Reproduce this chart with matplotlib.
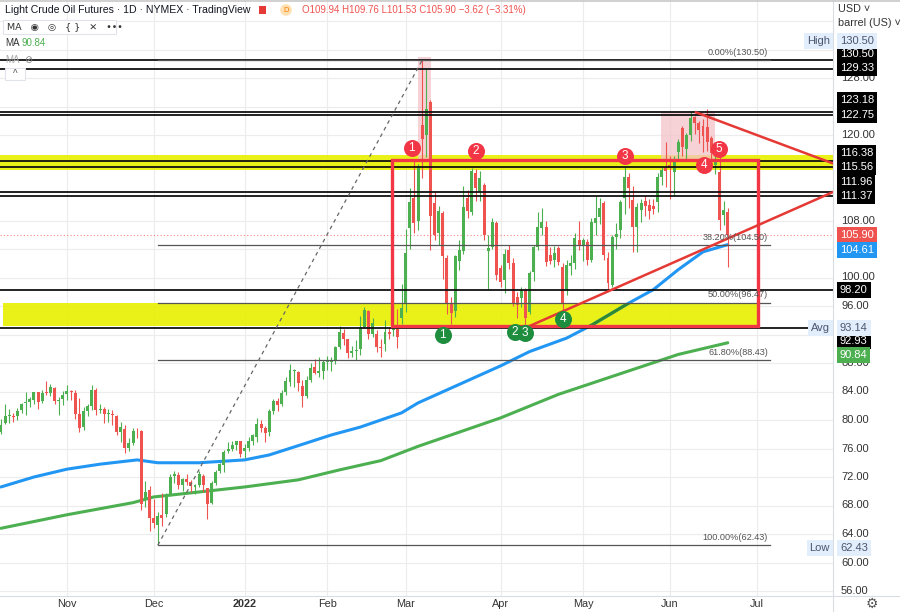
import numpy as np
import pandas as pd
import matplotlib
matplotlib.use("Agg")
import matplotlib.pyplot as plt
from matplotlib.patches import Rectangle
from matplotlib.transforms import blended_transform_factory

# ---------------- data ----------------
holidays = ["2021-11-25", "2021-12-24", "2022-01-17", "2022-02-21",
            "2022-04-15", "2022-05-30", "2022-06-20"]
dates = pd.bdate_range("2021-10-08", "2022-06-22", freq="C", holidays=holidays)

opens = [
    # Oct
    78.30, 79.60, 80.55, 80.60, 80.50, 81.40, 82.40, 82.50, 82.80, 83.90, 82.60, 83.90, 83.80, 84.50, 82.70, 82.90,
    # Nov
    83.60, 84.10, 83.80, 80.90, 79.00, 81.30, 81.90, 84.20, 81.40, 81.50, 80.80, 80.90, 80.50, 78.30, 78.80, 76.10,
    76.80, 78.40, 78.40, 69.00, 70.20,
    # Dec
    66.30, 65.30, 66.60, 66.80, 69.60, 72.20, 72.30, 70.90, 71.70, 71.30, 70.60, 70.90, 72.20, 70.40, 68.40, 71.10,
    72.80, 73.70, 75.60, 76.00, 76.50, 77.00,
    # Jan
    75.60, 76.10, 77.00, 77.60, 79.50, 78.90, 78.30, 81.30, 82.70, 82.20, 83.90, 85.40, 86.90, 86.70, 84.80, 83.40,
    85.60, 87.40, 86.60, 86.90,
    # Feb
    88.10, 88.20, 88.30, 90.20, 92.20, 91.30, 89.40, 89.70, 89.90, 93.10, 95.30, 92.10, 92.10, 90.30, 90.60, 92.30,
    92.60, 92.80, 94.30,
    # Mar
    96.40, 106.90, 111.20, 107.90, 121.40, 120.00, 124.60, 110.40, 106.30, 109.00, 102.80, 96.30, 95.30, 102.30,
    103.70, 111.20, 109.20, 114.60, 112.00, 113.00, 103.70, 104.30, 107.60,
    # Apr
    101.30, 99.60, 103.90, 102.00, 97.30, 97.10, 98.20, 95.20, 100.80, 104.30, 106.90, 107.10, 103.20, 102.50,
    104.10, 101.50, 98.20, 101.60, 102.00, 105.30,
    # May
    104.60, 105.00, 102.50, 107.60, 108.50, 110.40, 102.70, 98.90, 105.70, 106.70, 111.20, 114.10, 110.90, 107.10,
    109.50, 110.70, 110.20, 110.10, 110.60, 114.10, 115.40,
    # Jun
    115.80, 114.80, 117.60, 121.00, 118.10, 120.00, 122.50, 121.70, 121.30, 121.10, 119.60, 115.80, 114.80, 108.80,
    109.20,
]
highs = [
    80.11, 82.18, 81.60, 81.05, 81.62, 82.40, 83.87, 83.18, 83.96, 84.00, 84.25, 85.41, 85.10, 84.63, 83.20, 84.03,
    84.88, 84.25, 84.20, 83.13, 81.80, 82.24, 84.97, 84.50, 82.21, 81.84, 81.54, 81.42, 80.67, 79.71, 79.26, 77.46,
    78.93, 78.83, 78.55, 71.49, 70.71,
    68.98, 67.02, 69.73, 69.82, 72.43, 72.90, 72.71, 71.90, 72.49, 71.58, 71.05, 72.91, 72.47, 70.42, 71.38, 72.99,
    73.95, 75.85, 76.92, 77.09, 77.10, 77.06,
    76.60, 77.64, 78.10, 80.24, 80.02, 79.10, 81.48, 82.97, 83.03, 84.19, 86.06, 87.91, 87.10, 86.90, 85.61, 86.23,
    87.95, 88.54, 88.84, 88.40,
    88.98, 88.90, 90.42, 93.17, 92.73, 91.40, 90.40, 91.25, 94.66, 95.82, 95.50, 94.26, 92.70, 91.30, 94.00, 93.00,
    100.54, 95.64, 99.10,
    106.78, 112.51, 116.57, 116.00, 130.50, 129.44, 124.90, 112.00, 110.00, 109.30, 103.10, 97.20, 103.20, 105.30,
    112.90, 112.30, 115.40, 115.20, 114.90, 113.20, 106.00, 108.40, 108.00,
    101.80, 104.00, 104.60, 102.80, 98.00, 98.70, 98.50, 100.90, 104.60, 109.20, 109.80, 108.00, 104.30, 104.40,
    104.40, 102.00, 102.40, 103.20, 106.30, 108.00,
    105.60, 105.40, 108.30, 111.40, 111.20, 110.80, 103.60, 106.00, 107.70, 110.90, 115.50, 114.60, 112.80, 110.50,
    111.00, 111.40, 111.00, 111.00, 114.60, 115.50, 119.00,
    117.00, 117.00, 119.40, 121.20, 120.30, 123.18, 122.70, 122.00, 122.30, 123.70, 119.90, 118.00, 117.00, 110.80,
    109.76,
]
lows = [
    78.04, 79.41, 79.55, 79.70, 80.06, 81.05, 80.77, 81.77, 82.30, 81.48, 82.45, 83.45, 83.30, 82.25, 80.66, 82.10,
    82.74, 82.86, 80.21, 78.25, 78.56, 80.60, 81.40, 80.65, 80.92, 79.54, 79.70, 79.34, 77.96, 76.85, 75.33, 75.62,
    76.54, 77.45, 67.40, 67.82, 64.43,
    64.85, 62.43, 65.09, 66.43, 69.35, 71.14, 70.35, 70.04, 70.84, 69.87, 69.60, 70.58, 69.88, 66.12, 68.25, 70.84,
    72.50, 72.74, 75.43, 75.71, 75.73, 74.75,
    74.70, 75.70, 76.52, 76.92, 78.30, 76.94, 77.72, 80.90, 81.32, 81.90, 83.44, 84.76, 84.66, 84.14, 81.78, 83.10,
    85.40, 86.51, 86.10, 85.80,
    86.95, 86.90, 87.82, 89.90, 90.50, 88.70, 88.80, 88.40, 89.10, 92.90, 91.34, 91.60, 89.60, 88.80, 89.70, 91.30,
    91.80, 90.10, 93.50,
    95.20, 104.00, 106.30, 106.60, 114.00, 116.95, 103.90, 105.30, 104.50, 99.80, 94.90, 93.53, 94.50, 101.10,
    103.30, 108.30, 108.80, 110.70, 110.80, 105.30, 98.40, 104.00, 99.70,
    98.60, 97.80, 101.20, 96.00, 94.30, 95.80, 92.93, 94.90, 99.50, 103.80, 106.00, 101.60, 101.90, 101.50,
    101.80, 95.40, 97.60, 100.30, 101.20, 103.80,
    102.30, 101.80, 102.20, 106.00, 107.50, 102.50, 98.20, 98.60, 104.00, 105.60, 108.90, 109.80, 103.60, 103.60,
    107.80, 108.60, 108.20, 108.90, 109.20, 113.00, 112.70,
    111.00, 111.60, 116.70, 117.10, 116.60, 119.10, 120.10, 118.90, 117.60, 117.80, 116.20, 114.50, 106.70, 107.30,
    101.53,
]
closes = [
    79.35, 80.52, 80.64, 80.44, 81.31, 82.28, 82.44, 82.96, 83.87, 82.50, 83.76, 83.76, 84.65, 82.66, 82.81, 83.57,
    84.05, 83.91, 80.86, 78.81, 81.27, 81.93, 84.15, 81.34, 81.59, 80.79, 80.88, 80.76, 78.36, 79.01, 76.10, 76.75,
    78.50, 78.39, 68.15, 69.95, 66.18,
    65.57, 66.50, 66.26, 69.49, 72.05, 72.36, 70.94, 71.67, 71.29, 70.73, 70.87, 72.38, 70.86, 68.23, 71.12, 72.76,
    73.79, 75.57, 75.98, 76.56, 76.99, 75.21,
    76.08, 76.99, 77.85, 79.46, 78.90, 78.23, 81.22, 82.64, 82.12, 83.82, 85.43, 86.96, 86.90, 85.14, 83.31, 85.60,
    87.35, 86.61, 86.82, 88.15,
    88.20, 88.26, 90.27, 92.31, 91.32, 89.36, 89.66, 89.88, 93.10, 95.46, 92.07, 93.66, 90.30, 90.07, 92.35, 92.10,
    92.81, 91.59, 95.72,
    103.41, 110.60, 107.67, 115.68, 119.40, 123.70, 108.70, 106.02, 109.33, 103.01, 96.44, 95.04, 102.98, 103.90,
    109.90, 109.30, 114.90, 112.60, 113.90, 106.00, 104.20, 107.80, 100.30,
    99.30, 103.30, 102.00, 96.30, 96.10, 98.20, 94.30, 100.60, 104.30, 107.10, 107.80, 102.20, 102.30, 103.40,
    102.20, 96.40, 101.70, 102.10, 105.50, 104.60,
    105.20, 102.50, 107.80, 108.30, 109.80, 103.20, 99.20, 105.70, 106.10, 110.60, 114.10, 112.60, 107.10, 109.90,
    110.40, 110.00, 109.40, 109.60, 114.10, 115.10, 114.90,
    115.30, 116.50, 119.00, 118.30, 120.00, 122.40, 121.70, 120.70, 119.90, 119.00, 117.50, 116.20, 108.10, 109.52,
    105.90,
]

# moving averages (100 = blue, 200 = green)
ma100_dates = ["2021-10-08", "2021-10-20", "2021-11-01", "2021-11-11", "2021-11-24", "2021-12-02",
               "2021-12-16", "2022-01-03", "2022-01-11", "2022-01-21", "2022-02-02", "2022-02-11",
               "2022-02-28", "2022-03-04", "2022-03-18", "2022-04-01", "2022-04-12", "2022-04-26",
               "2022-05-04", "2022-05-17", "2022-05-25", "2022-06-03", "2022-06-13", "2022-06-22"]
ma100_vals = [70.6, 72.0, 73.1, 73.8, 74.4, 74.0, 74.0, 74.4, 75.1, 76.4, 77.9, 79.0,
              81.0, 82.4, 85.0, 87.6, 89.6, 91.5, 93.3, 96.4, 98.3, 101.1, 103.6, 104.61]
ma200_dates = ["2021-10-08", "2021-11-01", "2021-11-23", "2021-12-01", "2021-12-16", "2022-01-03",
               "2022-01-21", "2022-02-04", "2022-02-18", "2022-03-04", "2022-04-01", "2022-04-22",
               "2022-05-13", "2022-06-03", "2022-06-22"]
ma200_vals = [64.8, 66.7, 68.4, 69.2, 69.9, 70.6, 71.6, 73.0, 74.3, 76.3, 80.3, 83.6, 86.5, 89.2, 90.84]

levels = [130.50, 129.33, 123.18, 122.75, 116.38, 115.56, 111.96, 111.37, 98.20, 92.93]
fib_labels = ["0.00%", "38.20%", "50.00%", "61.80%", "100.00%"]
fib_vals = [130.50, 104.50, 96.47, 88.43, 62.43]
price_ticks = [128, 120, 108, 100, 96, 88, 84, 80, 76, 72, 68, 64, 60, 56]
grid_prices = np.arange(56, 140, 4)
month_labels = ["Nov", "Dec", "2022", "Feb", "Mar", "Apr", "May", "Jun", "Jul"]
month_starts = ["2021-11-01", "2021-12-01", "2022-01-03", "2022-02-01", "2022-03-01",
                "2022-04-01", "2022-05-02", "2022-06-01", "2022-07-01"]

# price tags on the right scale: text, y pixel, background
tags = [("130.50", 54, "#000000"), ("129.33", 68, "#000000"), ("123.18", 100, "#000000"),
        ("122.75", 115, "#000000"), ("116.38", 153, "#000000"), ("115.56", 167, "#000000"),
        ("111.96", 182, "#000000"), ("111.37", 196, "#000000"), ("105.90", 235, "#ef5350"),
        ("104.61", 250, "#2196f3"), ("98.20", 290, "#000000"), ("92.93", 341, "#000000"),
        ("90.84", 355, "#4caf50")]
soft_tags = [("High", "130.50", 41), ("Avg", "93.14", 328), ("Low", "62.43", 548)]

# numbered swing markers (bar position, price, label)
red_marks = [(99.5, 118.2, "1"), (115.0, 117.8, "2"), (151.1, 117.1, "3"), (170.2, 115.8, "4"), (173.9, 118.0, "5")]
green_marks = [(107.0, 91.9, "1"), (124.5, 92.35, "2"), (126.9, 92.2, "3"), (136.1, 94.2, "4")]

W, H = 900, 612
PLOT_R, PLOT_B = 833, 596


def bar_x(d):
    return np.busday_count(dates[0].date(), pd.Timestamp(d).date(), holidays=holidays)


def fx(px):
    return px / W


def fy(py):
    return 1 - py / H


plt.rcParams["font.family"] = ["Liberation Sans", "DejaVu Sans"]
fig = plt.figure(figsize=(W / 100, H / 100), dpi=100)
ax = fig.add_axes([0, 1 - PLOT_B / H, PLOT_R / W, PLOT_B / H])
ax.set_xlim(-0.9 / 4.13, (PLOT_R - 0.9) / 4.13)
ax.set_ylim(120 - (PLOT_B - 135) / 7.125, 120 + 135 / 7.125)
ax.set_xticks([])
ax.set_yticks([])
for s in ax.spines.values():
    s.set_visible(False)

# grid
for p in grid_prices:
    ax.axhline(p, color="#ececec", lw=0.8, zorder=0)
month_x = [bar_x(d) for d in month_starts]
for mx in month_x:
    ax.axvline(mx, color="#ececec", lw=0.8, zorder=0)

# yellow zones
upper_zone = Rectangle((-1, 115.1), 210, 2.1, fc="#e8f000", ec="none", alpha=0.9, zorder=1)
lower_zone = Rectangle((0.5, 93.2), 183.3, 3.2, fc="#e8f000", ec="none", alpha=0.9, zorder=1)
ax.add_patch(upper_zone)
ax.add_patch(lower_zone)

# pink highlight boxes
ax.add_patch(Rectangle((101.0, 116.5), 3.1, 14.4, fc="#f4c2c8", ec="none", alpha=0.75, zorder=1.2))
ax.add_patch(Rectangle((159.8, 116.2), 13.1, 7.0, fc="#f4c2c8", ec="none", alpha=0.75, zorder=1.2))

# moving averages
x100 = [bar_x(d) for d in ma100_dates]
x200 = [bar_x(d) for d in ma200_dates]
ax.plot(x200, ma200_vals, color="#4caf50", lw=2.2, zorder=2, solid_capstyle="round")
ax.plot(x100, ma100_vals, color="#2196f3", lw=2.2, zorder=2, solid_capstyle="round")
inner, = ax.plot(x100, ma100_vals, color="#2f8a2f", lw=2.2, zorder=2.1)
inner.set_clip_path(lower_zone)

# candles
x = np.arange(len(dates))
o = np.array(opens)
h = np.array(highs)
l = np.array(lows)
c = np.array(closes)
cols = np.where(c >= o, "#4caf50", "#ef5350")
ax.vlines(x, l, h, colors=cols, lw=0.8, zorder=3)
body = np.maximum(np.abs(c - o), 0.12)
ax.bar(x, body, bottom=np.minimum(o, c), width=0.72, color=cols, linewidth=0, zorder=3)

# current price line
ax.axhline(closes[-1], color="#ef5350", lw=0.8, ls=(0, (1, 2)), alpha=0.7, zorder=2.5)

# horizontal levels
for lv in levels:
    ax.axhline(lv, color="#111111", lw=1.3, zorder=4)

# fib retracement
fib_x0 = bar_x("2021-12-02")
fib_x1 = (770 - 0.9) / 4.13
for lab, v in zip(fib_labels, fib_vals):
    ax.plot([fib_x0, fib_x1], [v, v], color="#555555", lw=0.9, zorder=4)
    ax.text(fib_x1 - 0.5, v + 0.45, f"{lab}({v:.2f})", ha="right", va="bottom",
            fontsize=6.6, color="#555555", zorder=6)
ax.plot([fib_x0, bar_x("2022-03-07")], [fib_vals[-1], fib_vals[0]], color="#666666",
        lw=0.9, ls=(0, (3, 3)), zorder=4)

# red drawings
ax.add_patch(Rectangle((94.7, 93.2), 88.6, 23.3, fc="none", ec="#f23645", lw=2.4, zorder=5))
ax.plot([bar_x("2022-04-11"), 201.5], [92.93, 112.0], color="#e53935", lw=1.8, zorder=5)
ax.plot([168.3, 201.5], [123.18, 116.0], color="#e53935", lw=1.8, zorder=5)

# numbered markers
for mx, my, t in red_marks:
    ax.scatter([mx], [my], s=150, color="#f23645", zorder=7, linewidths=0)
    ax.text(mx, my, t, ha="center", va="center", color="white", fontsize=8.5, zorder=8)
for mx, my, t in green_marks:
    ax.scatter([mx], [my], s=150, color="#1e8e3e", zorder=7, linewidths=0)
    ax.text(mx, my, t, ha="center", va="center", color="white", fontsize=8.5, zorder=8)

# ---------------- price scale ----------------
tr = blended_transform_factory(fig.transFigure, ax.transData)
for p in price_ticks:
    ax.text(fx(841), p, f"{p:.2f}", transform=tr, ha="left", va="center", fontsize=8,
            color="#333333", clip_on=False)
for t, py, bg in tags:
    fig.text(fx(840), fy(py), t, ha="left", va="center", fontsize=8, color="white",
             bbox=dict(boxstyle="square,pad=0.25", fc=bg, ec="none"))
for name, val, py in soft_tags:
    fig.text(fx(830), fy(py), name, ha="right", va="center", fontsize=8, color="#4a5670",
             bbox=dict(boxstyle="square,pad=0.25", fc="#e3eefc", ec="none"))
    fig.text(fx(840), fy(py), val, ha="left", va="center", fontsize=8, color="#4a5670",
             bbox=dict(boxstyle="square,pad=0.25", fc="#e3eefc", ec="none"))

fig.text(fx(838), fy(9), "USD \u02c5", ha="left", va="center", fontsize=7.8, color="#333333")
fig.text(fx(838), fy(23), "barrel (US) \u02c5", ha="left", va="center", fontsize=7.8, color="#333333")

# time scale
for mx, lab in zip(month_x, month_labels):
    ax.text(mx, fy(604), lab, transform=blended_transform_factory(ax.transData, fig.transFigure),
            ha="center", va="center", fontsize=7.8, color="#333333",
            fontweight="bold" if lab == "2022" else "normal", clip_on=False)
fig.text(fx(872), fy(604), "\u2699", ha="center", va="center", fontsize=10,
         color="#555555", family="DejaVu Sans")

# separators
fig.add_artist(plt.Line2D([fx(PLOT_R), fx(PLOT_R)], [0, 1], color="#d9dce3", lw=0.8))
fig.add_artist(plt.Line2D([0, 1], [fy(PLOT_B), fy(PLOT_B)], color="#d9dce3", lw=0.8))
fig.add_artist(plt.Line2D([0, 1], [fy(1), fy(1)], color="#c8c8c8", lw=1.2))

# ---------------- legend / header ----------------
fig.text(fx(5), fy(10), "Light Crude Oil Futures \u00b7 1D \u00b7 NYMEX \u00b7 TradingView",
         ha="left", va="center", fontsize=7.6, color="#131722")
fig.add_artist(Rectangle((fx(259), fy(14)), 7 / W, 8 / H, transform=fig.transFigure,
                         fc="#e53935", ec="none"))
fig.text(fx(286), fy(10), "D", ha="center", va="center", fontsize=5.5, color="#f57c00",
         bbox=dict(boxstyle="circle,pad=0.3", fc="#ffe0b2", ec="none"))
fig.text(fx(302), fy(10), "O109.94 H109.76 L101.53 C105.90 \u22123.62 (\u22123.31%)",
         ha="left", va="center", fontsize=7, color="#ef5350")

fig.add_artist(Rectangle((fx(3), fy(34)), 113 / W, 14 / H, transform=fig.transFigure,
                         fc="white", ec="#e0e3eb", lw=0.8))
fig.text(fx(7), fy(27), "MA   \u25c9   \u25ce   { }   \u2715   \u2022\u2022\u2022", ha="left",
         va="center", fontsize=6.8, color="#333333", family=["DejaVu Sans"])
fig.text(fx(5), fy(43), "MA", ha="left", va="center", fontsize=7, color="#333333")
fig.text(fx(22), fy(43), "90.84", ha="left", va="center", fontsize=7, color="#4caf50")
fig.text(fx(5), fy(60), "MA", ha="left", va="center", fontsize=7, color="#aaaaaa")
fig.text(fx(24), fy(60), "\u2298", ha="left", va="center", fontsize=7, color="#888888",
         family=["DejaVu Sans"])
fig.add_artist(Rectangle((fx(5), fy(80)), 20 / W, 12 / H, transform=fig.transFigure,
                         fc="white", ec="#e0e3eb", lw=0.8))
fig.text(fx(15), fy(74), "^", ha="center", va="center", fontsize=7, color="#555555")

fig.savefig("out.png", dpi=100)
